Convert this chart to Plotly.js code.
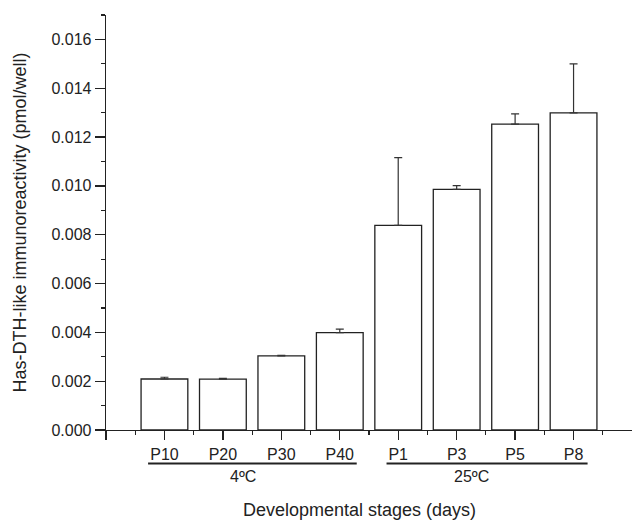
<!DOCTYPE html>
<html>
<head>
<meta charset="utf-8">
<script src="https://cdn.plot.ly/plotly-3.0.1.min.js"></script>
<style>html,body{margin:0;padding:0;background:#fff;}#chart{width:632px;height:520px;}</style>
</head>
<body>
<div id="chart"></div>
<script>
// Data
const stages = ["P10", "P20", "P30", "P40", "P1", "P3", "P5", "P8"];
const positions = [1, 2, 3, 4, 5, 6, 7, 8];
const values = [0.00209, 0.00208, 0.00304, 0.00399, 0.00838, 0.00986, 0.01253, 0.01299];
const errors = [0.00007, 0.00004, 0.00002, 0.00014, 0.00278, 0.00015, 0.00042, 0.00201];
const groupLabels = ["4ºC", "25ºC"];
const xTitle = "Developmental stages (days)";
const yTitle = "Has-DTH-like immunoreactivity (pmol/well)";

const ink = "#222";
const font = "Liberation Sans, Arial, sans-serif";

const trace = {
  type: "bar",
  x: positions,
  y: values,
  width: 0.8,
  marker: {color: "#ffffff", line: {color: ink, width: 1.3}},
  error_y: {
    type: "data",
    symmetric: false,
    array: errors,
    arrayminus: errors.map(() => 0),
    color: "#333",
    thickness: 1.2,
    width: 4
  },
  hoverinfo: "none"
};

const layout = {
  width: 632,
  height: 520,
  margin: {l: 106, r: 0, t: 15, b: 90},
  paper_bgcolor: "#fff",
  plot_bgcolor: "#fff",
  showlegend: false,
  font: {family: font, color: ink, size: 16},
  xaxis: {
    range: [0, 9],
    showgrid: false,
    zeroline: false,
    showline: true,
    linecolor: ink,
    linewidth: 1.3,
    tickmode: "array",
    tickvals: [0].concat(positions),
    ticktext: [""].concat(stages),
    ticks: "outside",
    ticklen: 9,
    tickwidth: 1.3,
    tickcolor: ink,
    tickfont: {size: 16, family: font, color: ink},
    minor: {
      tickmode: "array",
      tickvals: [0.5, 1.5, 2.5, 3.5, 4.5, 5.5, 6.5, 7.5, 8.5],
      ticks: "outside",
      ticklen: 4,
      tickwidth: 1.2,
      tickcolor: ink,
      showgrid: false
    },
    fixedrange: true
  },
  yaxis: {
    range: [0, 0.017],
    showgrid: false,
    zeroline: false,
    showline: true,
    linecolor: ink,
    linewidth: 1.3,
    tickmode: "linear",
    tick0: 0,
    dtick: 0.002,
    tickformat: ".3f",
    ticks: "outside",
    ticklen: 10,
    tickwidth: 1.3,
    tickcolor: ink,
    tickfont: {size: 16, family: font, color: ink},
    minor: {dtick: 0.001, ticks: "outside", ticklen: 4, tickwidth: 1.2, tickcolor: ink, showgrid: false},
    title: {text: yTitle, font: {size: 18, family: font, color: ink}, standoff: 20},
    automargin: false,
    fixedrange: true
  },
  shapes: [
    {type: "line", xref: "x", yref: "paper", x0: 0.72, x1: 4.29, y0: -0.081, y1: -0.081, line: {color: ink, width: 2}},
    {type: "line", xref: "x", yref: "paper", x0: 4.80, x1: 8.24, y0: -0.081, y1: -0.081, line: {color: ink, width: 2}}
  ],
  annotations: [
    {text: groupLabels[0], xref: "x", yref: "paper", x: 2.34, y: -0.113, xanchor: "center", yanchor: "middle", showarrow: false, font: {size: 16, family: font, color: ink}},
    {text: groupLabels[1], xref: "x", yref: "paper", x: 6.25, y: -0.113, xanchor: "center", yanchor: "middle", showarrow: false, font: {size: 16, family: font, color: ink}},
    {text: xTitle, xref: "x", yref: "paper", x: 4.33, y: -0.193, xanchor: "center", yanchor: "middle", showarrow: false, font: {size: 18, family: font, color: ink}}
  ]
};

Plotly.newPlot("chart", [trace], layout, {displayModeBar: false, staticPlot: true});
</script>
</body>
</html>
